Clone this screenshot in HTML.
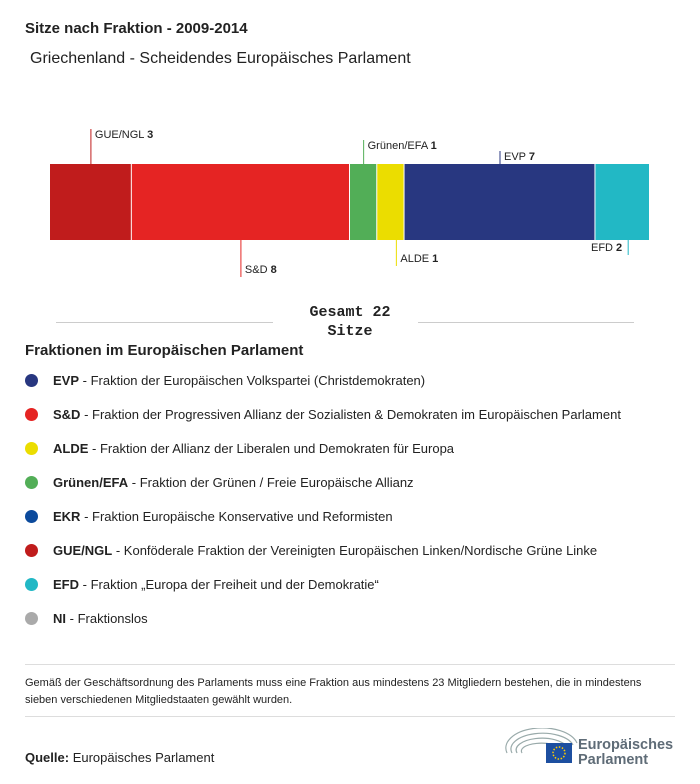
<!DOCTYPE html>
<html><head><meta charset="utf-8"><style>
body{margin:0;background:#fff;font-family:"Liberation Sans",sans-serif;color:#222;}
#root{position:relative;width:700px;height:784px;overflow:hidden;}
.abs{position:absolute;white-space:nowrap;}
.leg{position:absolute;left:25px;font-size:13px;}
.dot{position:absolute;left:0;top:1px;width:13px;height:13px;border-radius:50%;}
.leg span.t{margin-left:28px;}
</style></head><body>
<div id="root">
<div class="abs" style="left:25px;top:20px;font-size:15px;font-weight:bold">Sitze nach Fraktion - 2009-2014</div>
<div class="abs" style="left:30px;top:50px;font-size:16px">Griechenland - Scheidendes Europäisches Parlament</div>
<svg id="bar" width="700" height="350" style="position:absolute;left:0;top:0"></svg>
<div class="abs" style="left:56px;top:322px;width:217px;border-top:1px solid #ccc"></div>
<div class="abs" style="left:418px;top:322px;width:216px;border-top:1px solid #ccc"></div>
<div class="abs" style="left:290px;top:303px;width:120px;text-align:center;font-family:'Liberation Mono',monospace;font-weight:bold;font-size:15px;line-height:19px;white-space:normal">Gesamt 22<br>Sitze</div>
<div class="abs" style="left:25px;top:342px;font-size:15px;font-weight:bold">Fraktionen im Europäischen Parlament</div>
<div id="legend"></div>
<div class="abs" style="left:25px;top:664px;width:650px;border-top:1px solid #ddd"></div>
<div class="abs" style="left:25px;top:675px;font-size:11px;line-height:17px;white-space:normal;width:630px">Gemäß der Geschäftsordnung des Parlaments muss eine Fraktion aus mindestens 23 Mitgliedern bestehen, die in mindestens sieben verschiedenen Mitgliedstaaten gewählt wurden.</div>
<div class="abs" style="left:25px;top:716px;width:650px;border-top:1px solid #ddd"></div>
<div class="abs" style="left:25px;top:750px;font-size:13px"><b>Quelle:</b> Europäisches Parlament</div>
<svg class="abs" style="left:505px;top:728px" width="175" height="40">
<g fill="none" stroke="#9aa" stroke-width="1.2">
<path d="M2 25 A36 20 0 0 1 72 15"/><path d="M7 25 A30 15 0 0 1 68 17"/><path d="M12 25 A24 11 0 0 1 62 19"/><path d="M17 25 A18 7 0 0 1 56 21"/></g>
<rect x="41" y="15" width="26" height="20" fill="#1d4fa0"/>
<circle cx="54" cy="25" r="6" fill="none" stroke="#fc0" stroke-width="1.5" stroke-dasharray="1.5 1.6"/>
<text x="73" y="21" font-size="14.5" font-weight="bold" fill="#5f6c77" font-family="Liberation Sans,sans-serif">Europäisches</text>
<text x="73" y="36" font-size="14.5" font-weight="bold" fill="#5f6c77" font-family="Liberation Sans,sans-serif">Parlament</text>
</svg>
</div>
<script>
const groups=["GUE/NGL","S&D","Grünen/EFA","ALDE","EVP","EFD"];
const seats=[3,8,1,1,7,2];
const colors=["#c01c1c","#e52423","#52ae57","#ebdd00","#283780","#22b8c5"];
const total=seats.reduce((a,b)=>a+b,0);
const X0=50,X1=650,Y0=164,Y1=240;
const xs=v=>X0+(X1-X0)*v/total;
const svg=document.getElementById('bar');
const NS="http://www.w3.org/2000/svg";
const place=[["up",129],["down",277],["up",140],["down",266],["up",151],["down",255]];
const lineX=[0.5,0.5,0.5,0.7,0.5,0.6];
let cum=0;
seats.forEach((s,i)=>{
  const x=xs(cum),w=xs(cum+s)-x;
  const r=document.createElementNS(NS,'rect');
  
  
  r.setAttribute('x',x);r.setAttribute('y',Y0);r.setAttribute('width',Math.max(0,w-1));r.setAttribute('height',Y1-Y0);
  r.setAttribute('fill',colors[i]);svg.appendChild(r);
  let lx=x+w*lineX[i];
  const [dir,ly]=place[i];
  const ln=document.createElementNS(NS,'line');
  
  
  ln.setAttribute('x1',lx);ln.setAttribute('x2',lx);
  ln.setAttribute('y1',dir==="up"?ly:Y1);ln.setAttribute('y2',dir==="up"?Y0:ly);
  ln.setAttribute('stroke',colors[i]);ln.setAttribute('stroke-width',1);svg.appendChild(ln);
  const t=document.createElementNS(NS,'text');
  
  
  t.setAttribute('font-size','11');t.setAttribute('font-family','Liberation Sans,sans-serif');t.setAttribute('fill','#222');
  if(i===5){t.setAttribute('x',lx-6);t.setAttribute('text-anchor','end');t.setAttribute('y',251);}
  else{t.setAttribute('x',lx+4);t.setAttribute('y',dir==="up"?ly+9:ly-4);}
  t.innerHTML=groups[i].replace('&','&amp;')+' <tspan font-weight="bold">'+s+'</tspan>';
  svg.appendChild(t);
  cum+=s;
});
const legNames=["EVP","S&D","ALDE","Grünen/EFA","EKR","GUE/NGL","EFD","NI"];
const legDesc=["Fraktion der Europäischen Volkspartei (Christdemokraten)","Fraktion der Progressiven Allianz der Sozialisten & Demokraten im Europäischen Parlament","Fraktion der Allianz der Liberalen und Demokraten für Europa","Fraktion der Grünen / Freie Europäische Allianz","Fraktion Europäische Konservative und Reformisten","Konföderale Fraktion der Vereinigten Europäischen Linken/Nordische Grüne Linke","Fraktion „Europa der Freiheit und der Demokratie“","Fraktionslos"];
const legColors=["#283780","#e52423","#ebdd00","#52ae57","#0b4a9c","#c01c1c","#22b8c5","#aaaaaa"];
const leg=document.getElementById('legend');
legNames.forEach((n,i)=>{
  const d=document.createElement('div');
  d.className='leg';d.style.top=(373+i*34)+'px';
  
  
  const dot=document.createElement('div');dot.className='dot';dot.style.background=legColors[i];
  
  
  d.appendChild(dot);
  const s=document.createElement('span');s.className='t';
  s.innerHTML='<b></b> - ';s.firstChild.textContent=n;
  s.appendChild(document.createTextNode(legDesc[i]));
  d.appendChild(s);leg.appendChild(d);
});
</script>
</body></html>
